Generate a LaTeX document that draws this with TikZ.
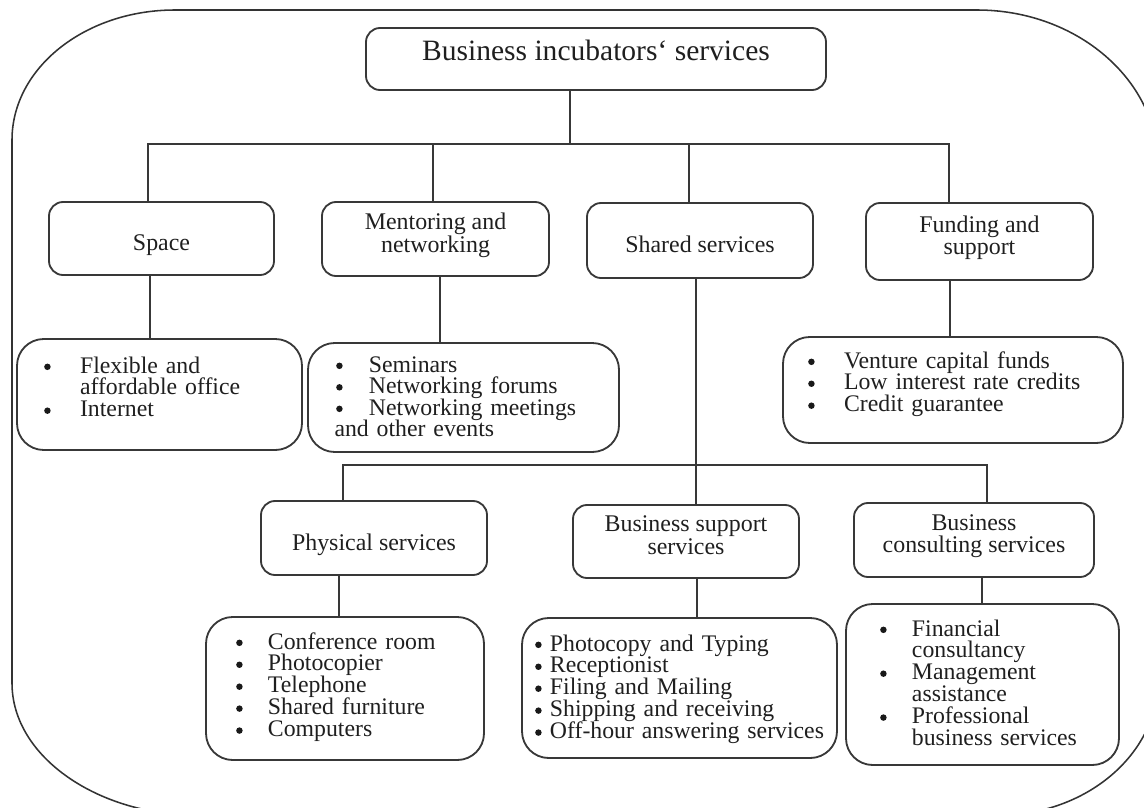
\documentclass[tikz,border=0pt]{standalone}
\usepackage{fontspec}
\setmainfont{Liberation Serif}
% fonts: headings, title, and list text with a fixed line pitch
\newcommand\hdrfont{\fontsize{17}{15.8}\selectfont\lineskiplimit=-30pt}
\newcommand\ttlfont{\fontsize{21}{25}\selectfont}
\newcommand\lstfont[1]{\fontsize{16.9}{#1}\selectfont\lineskiplimit=-30pt}
% round list bullet, drawn as a small filled disc sitting at mid x-height
\newcommand\bul{\tikz[baseline={(0pt,-4.4pt)}]\fill[black!90] (0pt,0pt) circle[radius=2.3pt];}
% one bullet item and one continuation line, with a given bullet column
\newcommand\itm[2]{\makebox[#1][l]{\hspace*{1.2pt}\bul}#2}
\newcommand\cnt[2]{\hspace*{#1}#2}
\begin{document}
\begin{tikzpicture}[x=0.025cm, y=-0.025cm,
  ink/.style={draw=black!78, line width=1.3pt},
  sz/.style 2 args={minimum width={#1*0.025cm}, minimum height={#2*0.025cm}},
  hdr/.style={ink, rounded corners=10pt, inner sep=0pt, outer sep=0pt,
    align=center, font=\hdrfont, text=black!88},
  oneline/.style={text height=21pt, text depth=3.8pt},
  twoline/.style={text depth=9pt},
  lstbox/.style={ink, rounded corners=19pt, inner sep=0pt, outer sep=0pt},
  lsttext/.style={anchor=base west, inner sep=0pt, outer sep=0pt,
    text width=9cm, align=left, text=black!88},
  link/.style={ink, line width=1.4pt},
  frame/.style={draw=black!80, line width=1.1pt}]

\useasboundingbox (0,0) rectangle (1144,808);

% outer frame, running past the page edges on the right and at the bottom
\begin{scope}
  \clip (0,0) rectangle (1144,808);
  \draw[frame] (12,140) .. controls (12,68) and (85,10) .. (175,10)
    -- (977,10) .. controls (1077,10) and (1158,80) .. (1158,165)
    -- (1158,680) .. controls (1158,755) and (1085,815) .. (1000,815)
    -- (195,815) .. controls (100,815) and (12,758) .. (12,683) -- cycle;
\end{scope}

% top
\node[hdr, sz={460}{62}, text depth=13pt, font=\ttlfont] (title) at (596,59)
  {Business incubators‘ services};

% first level
\node[hdr, oneline, sz={225}{73}] (space)   at (161.5,238.5) {Space};
\node[hdr, twoline, sz={227}{74}] (mentor)  at (435.5,239)   {Mentoring and\\networking};
\node[hdr, oneline, sz={226}{75}] (shared)  at (700,240.5)   {Shared services};
\node[hdr, twoline, sz={227}{77}] (funding) at (979.5,241.5) {Funding and\\support};

% first-level lists
\node[lstbox, sz={285}{111}] (spacel)  at (159.5,394.5) {};
\node[lstbox, sz={311}{109}] (mentorl) at (463.5,397.5) {};
\node[lstbox, sz={340}{106}] (fundl)   at (953,390)     {};

\node[lsttext, font=\lstfont{15.6pt}] (spacet) at (42.5,373)
  {\itm{26.7pt}{Flexible and}\\
   \cnt{26.7pt}{affordable office}\\
   \itm{26.7pt}{Internet}};
\node[lsttext, font=\lstfont{15.3pt}] (mentort) at (334.5,372)
  {\itm{24.5pt}{Seminars}\\
   \itm{24.5pt}{Networking forums}\\
   \itm{24.5pt}{Networking meetings}\\
   and other events};
\node[lsttext, font=\lstfont{15.6pt}] (fundt) at (806.5,368)
  {\itm{26.7pt}{Venture capital funds}\\
   \itm{26.7pt}{Low interest rate credits}\\
   \itm{26.7pt}{Credit guarantee}};

% shared services branch
\node[hdr, oneline, sz={226}{74}] (phys)    at (374,538)   {Physical services};
\node[hdr, twoline, sz={226}{73}] (bizsup)  at (686,541.5) {Business support\\services};
\node[hdr, twoline, sz={240}{74}] (consult) at (974,540)   {Business\\consulting services};

\node[lstbox, sz={278}{143}] (physl)    at (345,688.5)   {};
\node[lstbox, sz={315}{140}] (bizsupl)  at (679.5,688)   {};
\node[lstbox, sz={273}{161}] (consultl) at (982.5,684.5) {};

\node[lsttext, font=\lstfont{15.6pt}] (physt) at (234.5,649)
  {\itm{23.8pt}{Conference room}\\
   \itm{23.8pt}{Photocopier}\\
   \itm{23.8pt}{Telephone}\\
   \itm{23.8pt}{Shared furniture}\\
   \itm{23.8pt}{Computers}};
\node[lsttext, font=\lstfont{15.6pt}] (bizsupt) at (533.5,651)
  {\itm{11.7pt}{Photocopy and Typing}\\
   \itm{11.7pt}{Receptionist}\\
   \itm{11.7pt}{Filing and Mailing}\\
   \itm{11.7pt}{Shipping and receiving}\\
   \itm{11.7pt}{Off-hour answering services}};
\node[lsttext, font=\lstfont{15.6pt}] (consultt) at (878.5,636)
  {\itm{23.8pt}{Financial}\\
   \cnt{23.8pt}{consultancy}\\
   \itm{23.8pt}{Management}\\
   \cnt{23.8pt}{assistance}\\
   \itm{23.8pt}{Professional}\\
   \cnt{23.8pt}{business services}};

% connector positions
\coordinate (trunk) at (570,144);
\coordinate (busL)  at (148,144);
\coordinate (busR)  at (949,144);
\coordinate (mdrop) at (433,144);
\coordinate (sdrop) at (689,144);
\coordinate (xsp)   at (150,0);
\coordinate (xme)   at (440,0);
\coordinate (xfu)   at (950,0);
\coordinate (xsh)   at (696,0);
\coordinate (bus2L) at (343,465);
\coordinate (bus2R) at (987,465);
\coordinate (xph)   at (339,0);
\coordinate (xbs)   at (697,0);
\coordinate (xbc)   at (982,0);

% connectors
\draw[link] (title.south -| trunk) -- (trunk);
\draw[link] (space.north -| busL) -- (busL) -- (busR) -- (funding.north -| busR);
\draw[link] (mdrop) -- (mentor.north -| mdrop);
\draw[link] (sdrop) -- (shared.north -| sdrop);
\draw[link] (space.south -| xsp) -- (spacel.north -| xsp);
\draw[link] (mentor.south -| xme) -- (mentorl.north -| xme);
\draw[link] (funding.south -| xfu) -- (fundl.north -| xfu);
\draw[link] (shared.south -| xsh) -- (bizsup.north -| xsh);
\draw[link] (phys.north -| bus2L) -- (bus2L) -- (bus2R) -- (consult.north -| bus2R);
\draw[link] (phys.south -| xph) -- (physl.north -| xph);
\draw[link] (bizsup.south -| xbs) -- (bizsupl.north -| xbs);
\draw[link] (consult.south -| xbc) -- (consultl.north -| xbc);
\end{tikzpicture}
\end{document}
